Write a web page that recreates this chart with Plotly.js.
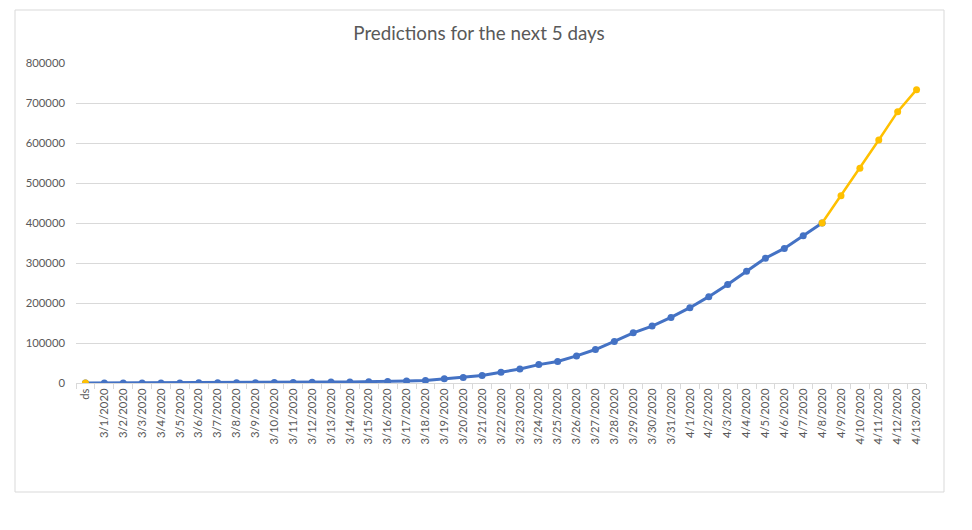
<!DOCTYPE html>
<html>
<head>
<meta charset="utf-8">
<script src="https://cdn.plot.ly/plotly-3.0.1.min.js"></script>
<style>
html,body{margin:0;padding:0;background:#fff;}
#chart{width:972px;height:530px;}
</style>
</head>
<body>
<div id="chart"></div>
<script>
var categories = ["ds","3/1/2020","3/2/2020","3/3/2020","3/4/2020","3/5/2020","3/6/2020","3/7/2020","3/8/2020","3/9/2020","3/10/2020","3/11/2020","3/12/2020","3/13/2020","3/14/2020","3/15/2020","3/16/2020","3/17/2020","3/18/2020","3/19/2020","3/20/2020","3/21/2020","3/22/2020","3/23/2020","3/24/2020","3/25/2020","3/26/2020","3/27/2020","3/28/2020","3/29/2020","3/30/2020","3/31/2020","4/1/2020","4/2/2020","4/3/2020","4/4/2020","4/5/2020","4/6/2020","4/7/2020","4/8/2020","4/9/2020","4/10/2020","4/11/2020","4/12/2020","4/13/2020"];

// Actual (blue) series: ds .. 4/8
var actualValues = [0,70,100,120,160,220,320,430,540,700,1000,1300,2000,2500,2800,3000,3500,5000,6000,10500,14000,18500,26800,35100,46000,53600,67800,83700,103800,125500,142300,164000,188300,215900,246000,279500,312100,336400,368200,400000,null,null,null,null,null];

// Prediction (orange) series: ds and 4/8 .. 4/13
var predictionValues = [0,null,null,null,null,null,null,null,null,null,null,null,null,null,null,null,null,null,null,null,null,null,null,null,null,null,null,null,null,null,null,null,null,null,null,null,null,null,null,400000,468300,536700,607500,678300,733300];

var yTicks = [0,100000,200000,300000,400000,500000,600000,700000,800000];

var mL = 76, mR = 46, mT = 63, mB = 147, W = 972, H = 530;
var pw = W - mL - mR, ph = H - mT - mB;
function px(x){ return (x - mL) / pw; }
function py(y){ return (H - mB - y) / ph; }

var traces = [
  {
    x: categories, y: actualValues, type: "scatter", mode: "lines+markers",
    line: {color: "#4472C4", width: 3},
    marker: {color: "#4472C4", size: 7},
    connectgaps: false, hoverinfo: "x+y", showlegend: false
  },
  {
    x: categories, y: predictionValues, type: "scatter", mode: "lines+markers",
    line: {color: "#FFC000", width: 2.5},
    marker: {color: "#FFC000", size: 7},
    connectgaps: false, hoverinfo: "x+y", showlegend: false
  }
];

var layout = {
  width: W, height: H,
  margin: {l: mL, r: mR, t: mT, b: mB, pad: 0},
  paper_bgcolor: "#ffffff", plot_bgcolor: "#ffffff",
  font: {family: "Lato, 'Open Sans', sans-serif", color: "#595959", size: 11},
  title: {
    text: "Predictions for the next 5 days",
    font: {family: "Lato, 'Open Sans', sans-serif", size: 18.8, color: "#595959"},
    x: 479 / W, xanchor: "center", xref: "container",
    y: 1 - 33 / H, yanchor: "middle", yref: "container"
  },
  xaxis: {
    type: "category",
    categoryorder: "array", categoryarray: categories,
    range: [-0.5, categories.length - 0.5],
    tickangle: -90,
    showgrid: false,
    showline: true, linecolor: "#D9D9D9", linewidth: 1,
    ticks: "outside", ticklen: 5, tickcolor: "#D9D9D9",
    tickson: "boundaries",
    tickfont: {size: 11.3, color: "#595959"},
    zeroline: false, fixedrange: true
  },
  yaxis: {
    range: [0, 800000],
    tickvals: yTicks,
    ticktext: yTicks.map(String),
    showgrid: true, gridcolor: "#D9D9D9", gridwidth: 1,
    zeroline: false, showline: false, ticks: "",
    ticklabelstandoff: 10,
    tickfont: {size: 11.3, color: "#595959"},
    fixedrange: true
  },
  shapes: [{
    type: "rect", xref: "paper", yref: "paper",
    x0: px(15), x1: px(944), y0: py(492), y1: py(10),
    line: {color: "#D9D9D9", width: 1}, fillcolor: "rgba(0,0,0,0)", layer: "below"
  }]
};

Plotly.newPlot("chart", traces, layout, {displayModeBar: false, staticPlot: true});
</script>
</body>
</html>
